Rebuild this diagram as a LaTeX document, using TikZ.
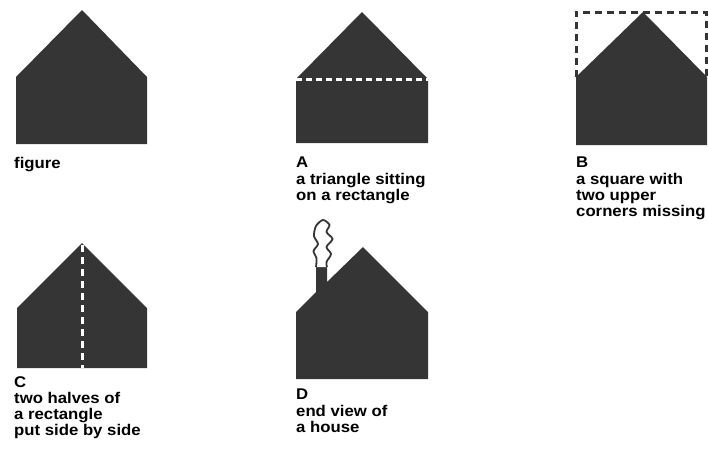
\documentclass[tikz,border=0pt]{standalone}
\usepackage{fontspec}
\newfontfamily\capfont[FakeStretch=1.08]{Liberation Sans}
\definecolor{ink}{HTML}{353535}

\begin{document}
\begin{tikzpicture}[x=1pt, y=-1pt,
    gable/.style = {fill=ink},
    seam/.style = {white, line width=3pt, dash pattern=on 6pt off 4pt},
    missing/.style = {ink, line width=3pt, dash pattern=on 7pt off 5pt},
    caption/.style = {anchor=north west, inner sep=0pt, align=left,
      font=\capfont\bfseries\fontsize{15.5}{16.3}\selectfont}]
  \useasboundingbox (0,0) rectangle (708,464);

  % the plain figure
  \fill[gable] (16,144) -- (16,77) -- (82,10) -- (147,77) -- (147,144) -- cycle;
  \node[caption] (fig) at (14,157) {figure};

  % A: triangle on a rectangle
  \fill[gable] (296,143) -- (296,79) -- (362,12) -- (428,79) -- (428,143) -- cycle;
  \draw[seam] (296,79) -- (428,79);
  \node[caption] (capA) at (296,157) {A\\a triangle sitting\\on a rectangle};

  % B: square with corners cut off
  \fill[gable] (576,145) -- (576,77) -- (643,12) -- (707,77) -- (707,145) -- cycle;
  \draw[missing] (576,77) -- (576,12) -- (706,12) -- (706,77);
  \node[caption] (capB) at (576,157) {B\\a square with\\two upper\\corners missing};

  % C: two halves
  \fill[gable] (17,368) -- (17,308) -- (82,243) -- (147,308) -- (147,368) -- cycle;
  \draw[seam, dash pattern=on 7pt off 5pt] (82,245) -- (82,368);
  \node[caption] (capC) at (14,376) {C\\two halves of\\a rectangle\\put side by side};

  % D: house with chimney and smoke
  \fill[gable] (296,379) -- (296,312) -- (316,292) -- (316,267) -- (327,267)
    -- (327,282) -- (363,247) -- (428,312) -- (428,379) -- cycle;
  \draw[ink, line width=1.8pt, fill=white] plot[smooth] coordinates {
    (316,267) (316.5,258) (313.5,251) (318,244) (314,236) (316,226) (323,220)
    (329.5,225) (326.5,232) (332.5,239) (326.5,247) (331,254) (326.5,262) (327,267)};
  \node[caption] (capD) at (296,389) {D\\end view of\\a house};
\end{tikzpicture}
\end{document}
